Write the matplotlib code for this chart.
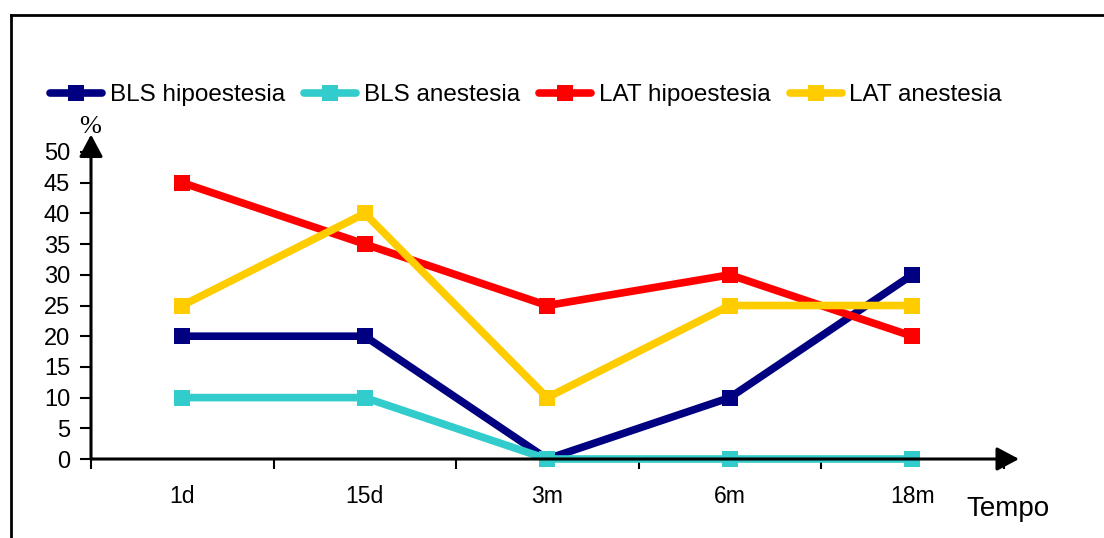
import matplotlib
matplotlib.use("Agg")
import matplotlib.pyplot as plt
from matplotlib.lines import Line2D

plt.rcParams['font.family'] = ['Liberation Sans', 'DejaVu Sans']

# data
periods = ["1d", "15d", "3m", "6m", "18m"]
bls_hipo = [20, 20, 0, 10, 30]
bls_anest = [10, 10, 0, 0, 0]
lat_hipo = [45, 35, 25, 30, 20]
lat_anest = [25, 40, 10, 25, 25]
y_ticks = [0, 5, 10, 15, 20, 25, 30, 35, 40, 45, 50]

series = [
    ("BLS hipoestesia", bls_hipo, "#000080"),
    ("BLS anestesia", bls_anest, "#33CCCC"),
    ("LAT hipoestesia", lat_hipo, "#FF0000"),
    ("LAT anestesia", lat_anest, "#FFCC00"),
]

W, H = 1104, 538
fig = plt.figure(figsize=(W / 100, H / 100), dpi=100)
ax = fig.add_axes([91 / W, (H - 459) / H, 912.5 / W, 307 / H])

x = list(range(len(periods)))
for name, vals, col in series:
    ax.plot(x, vals, color=col, lw=5.5, marker='s', ms=11.5, mew=0,
            solid_capstyle='round', label=name, clip_on=False)

ax.set_xlim(-0.5, len(periods) - 0.5)
ax.set_ylim(0, 50)

for s in ax.spines.values():
    s.set_visible(False)

# boundaries get tick marks, category centres get the labels
ax.set_xticks([i - 0.5 for i in range(len(periods) + 1)])
ax.set_xticklabels([])
ax.set_xticks(x, minor=True)
ax.set_xticklabels(periods, minor=True)
ax.tick_params(axis='x', which='major', length=7, width=1.5, direction='out')
ax.tick_params(axis='x', which='minor', length=0, pad=19, labelsize=16.5)
ax.set_yticks(y_ticks)
ax.tick_params(axis='y', length=8, width=1.5, direction='out', pad=7, labelsize=17)

# axis arrows
arrow = dict(arrowstyle='-|>,head_length=0.75,head_width=0.4', lw=2.2,
             color='black', mutation_scale=18, shrinkA=0, shrinkB=0)
ax.annotate("", xy=(1.017, 0), xytext=(0, 0), xycoords='axes fraction',
            textcoords='axes fraction', arrowprops=arrow, annotation_clip=False)
ax.annotate("", xy=(0, 1.057), xytext=(0, 0), xycoords='axes fraction',
            textcoords='axes fraction', arrowprops=arrow, annotation_clip=False)

fig.text(1008 / W, 1 - 509 / H, "Tempo", ha='center', va='center', fontsize=20)
fig.text(90 / W, 1 - 127 / H, "%", ha='center', va='center', fontsize=19,
         family='Liberation Serif')

ax.legend(loc='center left', bbox_to_anchor=(50 / W, 1 - 95 / H),
          bbox_transform=fig.transFigure, ncol=4, frameon=False,
          fontsize=17.5, handlelength=2.15, handletextpad=0.3,
          columnspacing=0.8, borderpad=0, borderaxespad=0)

# outer frame (top and left only visible in the reference)
fig.add_artist(Line2D([10.5 / W, 10.5 / W], [0, 1 - 14.5 / H], color='black',
                      lw=2, transform=fig.transFigure))
fig.add_artist(Line2D([10.5 / W, 1], [1 - 14.5 / H, 1 - 14.5 / H], color='black',
                      lw=2, transform=fig.transFigure))

fig.savefig("out.png", dpi=100)
